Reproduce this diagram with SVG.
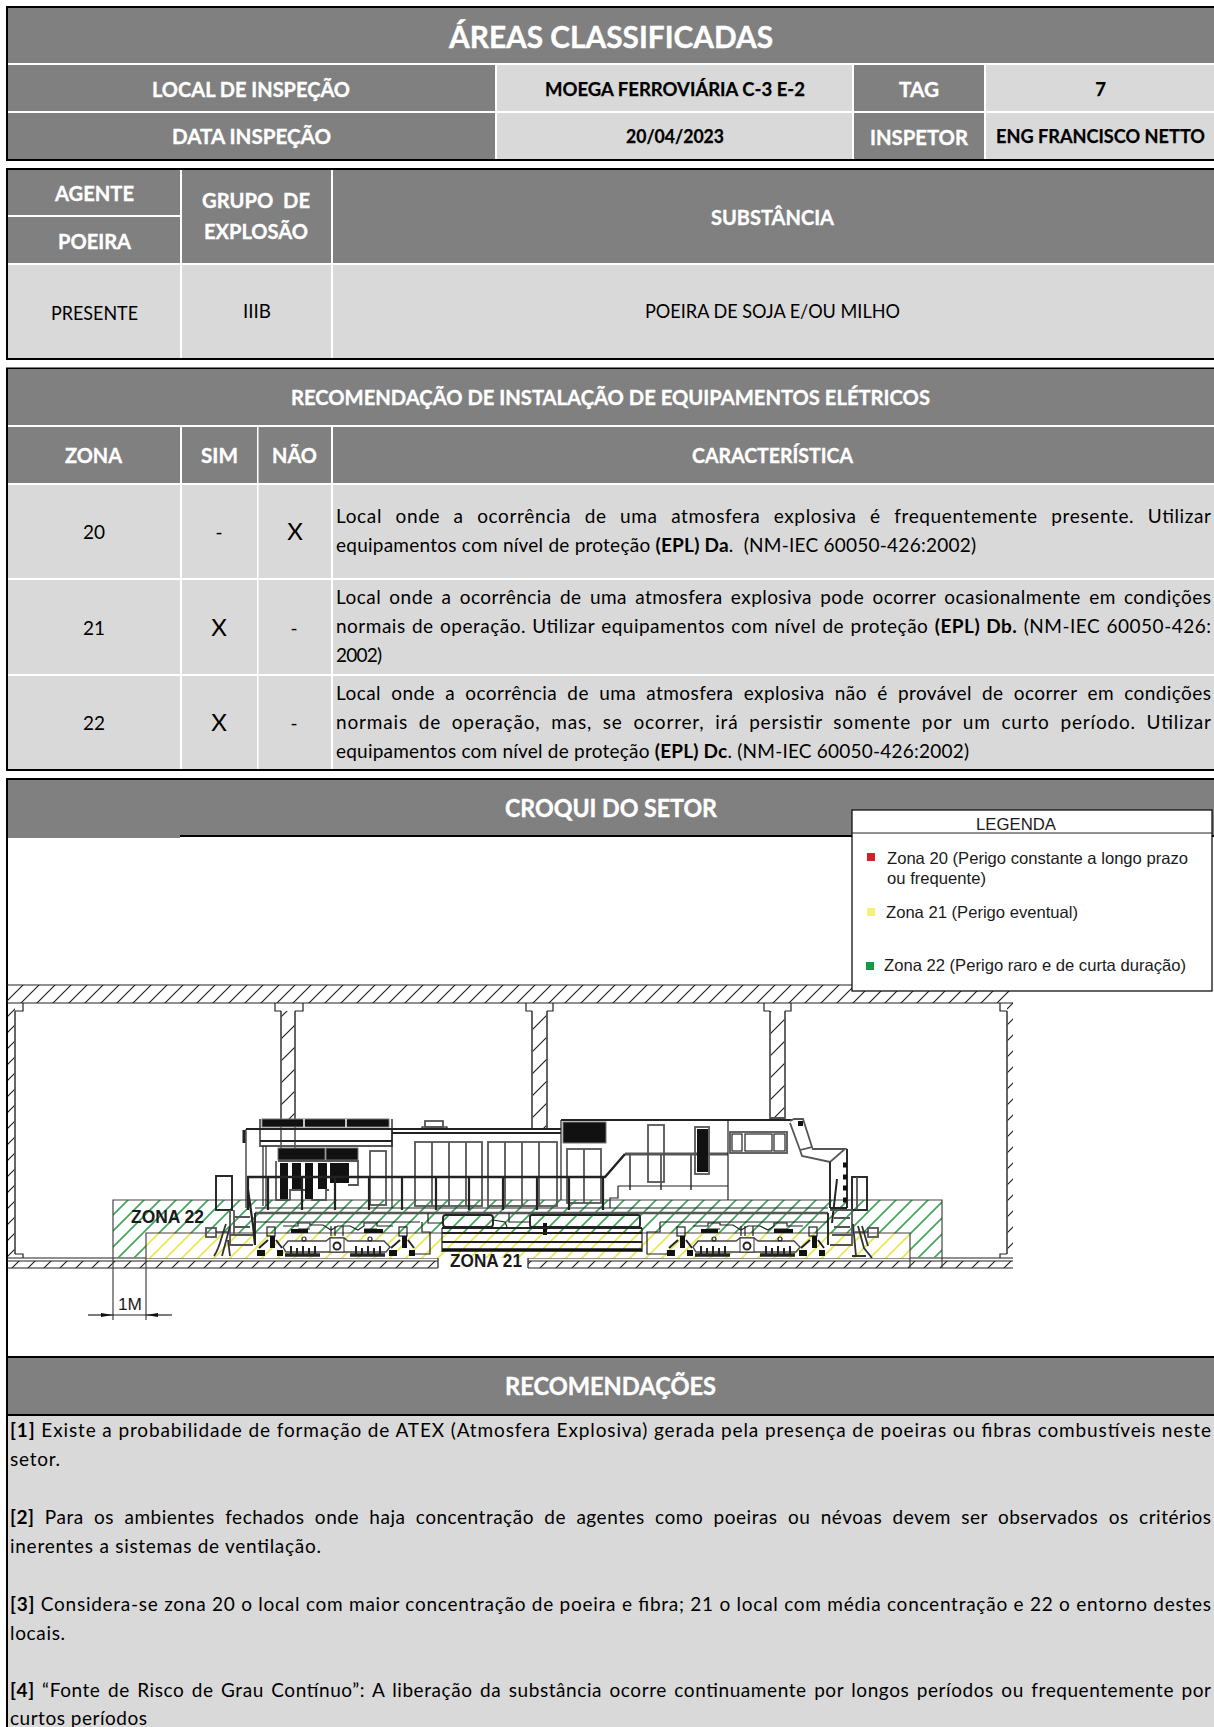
<svg xmlns="http://www.w3.org/2000/svg" xmlns:xlink="http://www.w3.org/1999/xlink" width="1214" height="1727" viewBox="0 0 1214 1727">
<style>
text{font-family:Lato,"Open Sans","Noto Sans",sans-serif}
.g{fill:#808080}.c{fill:#d9d9d9}.k{fill:#000}.w{fill:#fff}
.h{fill:#fff;font-weight:700;font-size:21px;stroke:#fff;stroke-width:.35px}
.b{fill:#000;font-weight:700;font-size:18.5px;stroke:#000;stroke-width:.25px}
.n{fill:#000;font-size:19px}
.p{fill:#000;font-size:19px}
.m{text-anchor:middle}
.a{font-family:"Liberation Sans",Arial,sans-serif;fill:#1a1a1a}
.s{font-weight:700}
.ti{font-weight:700;fill:#fff;stroke:#fff;stroke-width:.4px}
.l{fill:none;stroke:#222;stroke-width:1.2}
.t{fill:none;stroke:#222;stroke-width:1.9}
.y{fill:none;stroke:#555;stroke-width:1.8}
.f{fill:#111;stroke:#777;stroke-width:1}
.d{fill:#111}
</style>
<defs>
<pattern id="hg" width="16" height="16" patternUnits="userSpaceOnUse"><path d="M-2 2L2-2M0 16L16 0M14 18L18 14" stroke="#3ea35c" stroke-width="1.6" fill="none"/></pattern>
<pattern id="hy" width="16" height="16" patternUnits="userSpaceOnUse"><path d="M-2 2L2-2M0 16L16 0M14 18L18 14" stroke="#ece64a" stroke-width="1.6" fill="none"/></pattern>
<pattern id="hk" width="16" height="16" patternUnits="userSpaceOnUse"><path d="M-2 2L2-2M0 16L16 0M14 18L18 14" stroke="#222" stroke-width="1.2" fill="none"/></pattern>
<pattern id="hc" width="22" height="22" patternUnits="userSpaceOnUse"><path d="M-2 2L2-2M0 22L22 0M20 24L24 20" stroke="#222" stroke-width="1.2" fill="none"/></pattern>
<marker id="ar" viewBox="0 0 12 4" refX="12" refY="2" markerWidth="12" markerHeight="4" markerUnits="userSpaceOnUse" orient="auto"><path d="M0 0L12 2L0 4z" fill="#111"/></marker>
<g id="end">
<path class="t" d="M259 1248L268 1240M276 1240L282 1248"/>
<rect class="l" x="267" y="1227" width="8" height="9"/>
<rect class="d" x="270" y="1236" width="5" height="12"/>
<rect class="d" x="257" y="1250" width="8" height="6"/>
<rect class="d" x="277" y="1250" width="6" height="6"/>
</g>
<g id="wheels">
<path d="M285 1255H320" stroke="#222" stroke-width="3.500" fill="none"/>
<path d="M291 1246v10M297 1248v8M303 1246v10M309 1248v8M315 1246v10" stroke="#222" stroke-width="2" fill="none"/>
</g>
<g id="truck">
<path class="l" d="M283 1226H298V1223H310V1225H323L331 1230L338 1226H350L358 1230L364 1226V1223H377V1226H393"/>
<path fill="#fff" stroke="#444" stroke-width="1.4" d="M283 1247L288 1241H326L330 1238H344L348 1241H384L390 1247L386 1252H286Z"/>
<rect class="d" x="291" y="1229" width="17" height="4"/>
<rect class="d" x="364" y="1229" width="19" height="4"/>
<path class="l" d="M331 1226V1236M335 1226V1236M343 1226V1236M298 1229H310M364 1229H377"/>
<circle class="l" cx="304" cy="1239" r="2"/>
<circle class="l" cx="370" cy="1239" r="2"/>
<rect x="330" y="1238" width="14" height="14" fill="#fff" stroke="#333"/>
<circle class="t" cx="337" cy="1246" r="3.500"/>
<use xlink:href="#end" href="#end"/>
<use xlink:href="#end" href="#end" x="132"/>
<use xlink:href="#wheels" href="#wheels"/>
<use xlink:href="#wheels" href="#wheels" x="65"/>
</g>
</defs>
<rect class="w" width="1214" height="1727"/>

<g id="header">
<rect class="k" x="6" y="6" width="1208" height="155"/>
<rect class="g" x="8" y="8" width="1206" height="55"/>
<rect class="w" x="8" y="63" width="1206" height="2"/>
<rect class="g" x="8" y="65" width="487" height="46"/>
<rect class="w" x="8" y="111" width="487" height="2"/>
<rect class="g" x="8" y="113" width="487" height="46"/>
<rect class="w" x="495" y="65" width="719" height="94"/>
<rect class="c" x="497" y="65" width="355" height="46"/>
<rect class="c" x="497" y="113" width="355" height="46"/>
<rect class="g" x="854" y="65" width="130" height="46"/>
<rect class="g" x="854" y="113" width="130" height="46"/>
<rect class="c" x="986" y="65" width="228" height="46"/>
<rect class="c" x="986" y="113" width="228" height="46"/>
<text class="ti" x="449" y="48" font-size="31" textLength="324" lengthAdjust="spacingAndGlyphs">ÁREAS CLASSIFICADAS</text>
<text class="h" x="152" y="97" textLength="198" lengthAdjust="spacingAndGlyphs">LOCAL DE INSPEÇÃO</text>
<text class="h" x="172" y="144" textLength="159" lengthAdjust="spacingAndGlyphs">DATA INSPEÇÃO</text>
<text class="b" x="545" y="96" textLength="260" lengthAdjust="spacingAndGlyphs">MOEGA FERROVIÁRIA C-3 E-2</text>
<text class="h" x="899" y="97" textLength="40" lengthAdjust="spacingAndGlyphs">TAG</text>
<text class="b m" x="1100.5" y="96">7</text>
<text class="b" x="626" y="143" textLength="98" lengthAdjust="spacingAndGlyphs">20/04/2023</text>
<text class="h" x="870" y="145" textLength="98" lengthAdjust="spacingAndGlyphs">INSPETOR</text>
<text class="b" x="996" y="143" textLength="209" lengthAdjust="spacingAndGlyphs">ENG FRANCISCO NETTO</text>
</g>

<g id="agente">
<rect class="k" x="6" y="168" width="1208" height="192"/>
<rect class="g" x="8" y="170" width="1206" height="93"/>
<rect class="c" x="8" y="264.500" width="1206" height="93.500"/>
<rect class="w" x="8" y="263" width="1206" height="2"/>
<rect class="w" x="8" y="215" width="172" height="2"/>
<rect class="w" x="180" y="170" width="2" height="188"/>
<rect class="w" x="331" y="170" width="2" height="188"/>
<text class="h" x="55" y="201" textLength="79" lengthAdjust="spacingAndGlyphs">AGENTE</text>
<text class="h" x="58" y="249" textLength="73" lengthAdjust="spacingAndGlyphs">POEIRA</text>
<text class="h" x="202" y="208" textLength="108" lengthAdjust="spacingAndGlyphs" xml:space="preserve">GRUPO  DE</text>
<text class="h" x="204" y="239" textLength="104" lengthAdjust="spacingAndGlyphs">EXPLOSÃO</text>
<text class="h" x="711" y="225" textLength="123" lengthAdjust="spacingAndGlyphs">SUBSTÂNCIA</text>
<text class="n" x="51" y="320" textLength="87" lengthAdjust="spacingAndGlyphs">PRESENTE</text>
<text class="n" x="243" y="318" textLength="28" lengthAdjust="spacingAndGlyphs">IIIB</text>
<text class="n" x="645" y="318" textLength="255" lengthAdjust="spacingAndGlyphs">POEIRA DE SOJA E/OU MILHO</text>
</g>

<g id="recomendacao-instalacao">
<rect class="k" x="6" y="367.500" width="1208" height="403.500"/>
<rect class="g" x="8" y="369" width="1206" height="56"/>
<rect class="w" x="8" y="425" width="1206" height="2"/>
<rect class="g" x="8" y="427" width="1206" height="56"/>
<rect class="c" x="8" y="485" width="1206" height="284"/>
<rect class="w" x="8" y="483" width="1206" height="2"/>
<rect class="w" x="8" y="578" width="1206" height="2"/>
<rect class="w" x="8" y="674" width="1206" height="2"/>
<rect class="w" x="180" y="427" width="2" height="342"/>
<rect class="w" x="257" y="427" width="1.500" height="342"/>
<rect class="w" x="331" y="427" width="2" height="342"/>
<text class="h" x="291" y="405" textLength="639" lengthAdjust="spacingAndGlyphs">RECOMENDAÇÃO DE INSTALAÇÃO DE EQUIPAMENTOS ELÉTRICOS</text>
<text class="h" x="65" y="463" textLength="57" lengthAdjust="spacingAndGlyphs">ZONA</text>
<text class="h" x="201" y="463" textLength="37" lengthAdjust="spacingAndGlyphs">SIM</text>
<text class="h" x="272" y="463" textLength="45" lengthAdjust="spacingAndGlyphs">NÃO</text>
<text class="h" x="692" y="463" textLength="161" lengthAdjust="spacingAndGlyphs">CARACTERÍSTICA</text>
<text class="n m" x="94" y="539" font-size="20">20</text>
<text class="n m" x="219" y="539">-</text>
<text class="n m" x="295" y="540" style="font-size:24px">X</text>
<text class="n m" x="94" y="635">21</text>
<text class="n m" x="219" y="636" style="font-size:24px">X</text>
<text class="n m" x="294" y="635">-</text>
<text class="n m" x="94" y="730">22</text>
<text class="n m" x="219" y="731" style="font-size:24px">X</text>
<text class="n m" x="294" y="730">-</text>
<g class="lines">
<text class="p" x="336" y="523" word-spacing="8" textLength="875">Local onde a ocorrência de uma atmosfera explosiva é frequentemente presente. Utilizar</text>
<text class="p" x="336" y="552" textLength="640" xml:space="preserve">equipamentos com nível de proteção <tspan class="s">(EPL) Da</tspan>.  (NM-IEC 60050-426:2002)</text>
<text class="p" x="336" y="604" word-spacing="3" textLength="875">Local onde a ocorrência de uma atmosfera explosiva pode ocorrer ocasionalmente em condições</text>
<text class="p" x="336" y="633" word-spacing="1" textLength="875">normais de operação. Utilizar equipamentos com nível de proteção <tspan class="s">(EPL) Db.</tspan> (NM-IEC 60050-426:</text>
<text class="p" x="336" y="662" textLength="46">2002)</text>
<text class="p" x="336" y="700" word-spacing="5" textLength="875">Local onde a ocorrência de uma atmosfera explosiva não é provável de ocorrer em condições</text>
<text class="p" x="336" y="729" word-spacing="5" textLength="875">normais de operação, mas, se ocorrer, irá persistir somente por um curto período. Utilizar</text>
<text class="p" x="336" y="758" textLength="633">equipamentos com nível de proteção <tspan class="s">(EPL) Dc</tspan>. (NM-IEC 60050-426:2002)</text>
</g>
</g>

<g id="croqui-cabecalho">
<rect class="k" x="6" y="778" width="1208" height="2"/>
<rect class="g" x="8" y="780" width="1206" height="58"/>
<rect class="w" x="180" y="837" width="1034" height="1"/>
<rect class="k" x="180" y="835" width="1034" height="2"/>
<rect class="k" x="6" y="780" width="2" height="947"/>
<text class="ti" x="505" y="817" font-size="25" textLength="212" lengthAdjust="spacingAndGlyphs">CROQUI DO SETOR</text>
</g>

<g id="predio">
<rect x="7" y="985" width="1006" height="18" fill="url(#hk)"/>
<path class="l" d="M7 985H1013M7 1003H1013"/>
<rect x="8" y="1003" width="7" height="255" fill="url(#hk)"/>
<path class="y" d="M15 1012V1254"/>
<path class="l" d="M23 1003V1011H15V1012M23 1258V1254H15"/>
<rect x="1007" y="1003" width="6" height="255" fill="url(#hk)"/>
<path class="y" d="M1007 1011V1254"/>
<path class="l" d="M1000 1003V1011H1007M1000 1258V1254H1007"/>
<rect x="281" y="1011" width="14" height="108" fill="url(#hc)"/>
<path class="y" d="M281 1011V1119M295 1011V1119"/>
<path class="l" d="M275 1003V1011H281M303 1003V1011H295M281 1119V1160M295 1119V1160"/>
<rect x="532" y="1011" width="15" height="117" fill="url(#hc)"/>
<path class="y" d="M532 1011V1128M547 1011V1128"/>
<path class="l" d="M526 1003V1011H532M553 1003V1011H547"/>
<rect x="770" y="1011" width="15" height="107" fill="url(#hc)"/>
<path class="y" d="M770 1011V1118H785V1011"/>
<path class="l" d="M764 1003V1011H770M791 1003V1011H785"/>
<rect x="7" y="1261" width="431" height="7" fill="url(#hk)"/>
<rect x="528" y="1261" width="485" height="7" fill="url(#hk)"/>
<path class="l" d="M7 1258H438V1268M7 1261H438M7 1268H438M528 1268V1258H1013M528 1261H1013M528 1268H1013"/>
</g>

<g id="zonas">
<rect x="113" y="1200" width="829" height="58" fill="url(#hg)"/>
<rect x="146" y="1233" width="764" height="25" fill="#fff"/>
<rect x="146" y="1233" width="764" height="25" fill="url(#hy)"/>
<path fill="none" stroke="#444" stroke-width="1.200" d="M113 1320V1200H942V1268M146 1320V1233H910V1268"/>
<text class="a s" x="131" y="1223" font-size="17.500" textLength="73" lengthAdjust="spacingAndGlyphs">ZONA 22</text>
<text class="a s" x="450" y="1267" font-size="17.500" textLength="72" lengthAdjust="spacingAndGlyphs">ZONA 21</text>
</g>

<g id="locomotiva">
<rect class="f" x="262" y="1119" width="127" height="8"/>
<path stroke="#fff" stroke-width="1.5" d="M304 1119V1127M346 1119V1127"/>
<path class="y" d="M260 1119V1146H392V1119"/>
<path class="t" d="M246 1129H260M392 1129H561M392 1133H561M260 1129H392M260 1141H392"/>
<path class="l" d="M246 1129V1208M263 1146V1206M266 1146V1206M392 1129V1208"/>
<path d="M244 1130V1143" stroke="#222" stroke-width="3"/>
<rect class="f" x="278" y="1148" width="47" height="12"/>
<rect class="f" x="326" y="1148" width="32" height="12"/>
<path class="y" stroke="#666" d="M278 1161H358V1185H348M276 1161V1200H290M290 1200V1190H312V1200H326V1190H329"/>
<rect class="d" x="280" y="1163" width="8" height="36"/>
<rect class="d" x="292" y="1163" width="9" height="26"/>
<rect class="d" x="305" y="1163" width="8" height="36"/>
<rect class="d" x="318" y="1163" width="9" height="26"/>
<rect class="d" x="330" y="1163" width="19" height="20"/>
<rect class="y" x="370" y="1151" width="16" height="54"/>
<rect x="422" y="1127" width="25" height="2" class="l"/>
<rect x="425" y="1121" width="18" height="6" class="y"/>
<g class="y">
<rect x="415" y="1142" width="67" height="64"/>
<path d="M432 1142V1206M449 1142V1206M466 1142V1206"/>
<rect x="488" y="1142" width="69" height="64"/>
<path d="M505 1142V1206M522 1142V1206M539 1142V1206"/>
<rect x="567" y="1149" width="34" height="54"/>
<path d="M584 1149V1203"/>
</g>
<path d="M247 1177H605L625 1154" fill="none" stroke="#222" stroke-width="2.400"/>
<path d="M625 1154H728" fill="none" stroke="#555" stroke-width="2.800"/>
<path d="M248 1177V1210M268 1177V1210M302 1177V1210M335 1177V1210M369 1177V1210M402 1177V1210M436 1177V1210M469 1177V1210M503 1177V1210M537 1177V1210M569 1177V1210M603 1177V1210" fill="none" stroke="#222" stroke-width="2.200"/>
<path class="y" d="M630 1154V1190M661 1154V1190M691 1154V1190"/>
<path class="t" d="M561 1120H792"/>
<path class="l" d="M561 1120V1200M728 1120V1200M618 1186H728M618 1186V1198H610V1208"/>
<rect class="f" x="563" y="1122" width="43" height="21" stroke-width="2"/>
<rect class="y" x="648" y="1125" width="16" height="57"/>
<rect class="y" x="695" y="1127" width="14" height="47"/>
<rect class="d" x="697" y="1129" width="11" height="43"/>
<rect class="y" x="730" y="1132" width="57" height="21"/>
<rect class="l" x="732" y="1134" width="10" height="17"/>
<rect class="l" x="745" y="1134" width="27" height="17"/>
<rect class="l" x="774" y="1134" width="11" height="17"/>
<path class="y" d="M790 1121L794 1119H803L812 1147L800 1150L790 1123M800 1150L802 1156L830 1162L845 1149H812"/>
<rect class="d" x="798" y="1121" width="5" height="5"/>
<path class="t" d="M847 1149V1208M830 1162V1208M830 1208H847"/>
<path d="M843 1165h4M843 1177h4M843 1188h4M843 1200h4" stroke="#111" stroke-width="5"/>
<path d="M837 1179L832 1223" stroke="#222" stroke-width="2" fill="none"/>
<rect class="t" x="852" y="1177" width="15" height="33"/>
<path class="y" d="M857 1177V1210"/>
<path class="l" d="M255 1208H828M255 1222H420M660 1222H828"/>
<path d="M255 1213H828" stroke="#555" stroke-width="2.400" fill="none"/>
<path class="t" d="M255 1213V1245M828 1213V1245"/>
<path class="l" d="M660 1222V1232H647V1254H667M422 1222V1232H430V1254H415"/>
<rect class="t" x="443" y="1215" width="50" height="12" rx="3"/>
<rect class="t" x="530" y="1215" width="110" height="12" rx="2"/>
<path class="l" d="M428 1213V1223H443M493 1220L505 1222L507 1227M509 1213V1222H530"/>
<path d="M545 1223V1235" stroke="#111" stroke-width="4"/>
<path class="t" d="M442 1228H642M442 1233H642M442 1242H642"/>
<path d="M442 1250H642" stroke="#111" stroke-width="3.500"/>
<path class="l" d="M442 1228V1252M642 1228V1252"/>
<use xlink:href="#truck" href="#truck"/>
<use xlink:href="#truck" href="#truck" x="410"/>
<rect class="t" x="216" y="1176" width="16" height="34"/>
<path d="M248 1190L253 1225L255 1245" fill="none" stroke="#222" stroke-width="2.200"/>
<path class="y" d="M230 1210V1245H253M234 1217H250M234 1227H250M230 1235H253M234 1210V1235"/>
<rect class="y" x="206" y="1228" width="10" height="9"/>
<path class="l" d="M216 1232H228"/>
<path d="M226 1224C222 1234 220 1248 214 1256M230 1226L222 1256M228 1240L230 1256" fill="none" stroke="#333" stroke-width="1.800"/>
<path class="y" d="M830 1245H852V1210H830M834 1218H850M834 1227H850M832 1235H852"/>
<rect class="y" x="868" y="1228" width="10" height="9"/>
<path class="l" d="M855 1232H868"/>
<path d="M853 1224L856 1256M858 1226L864 1248L872 1258M862 1226L868 1246M852 1256H866" fill="none" stroke="#333" stroke-width="1.800"/>
</g>

<g id="cota">
<path class="l" d="M88 1315H113" marker-end="url(#ar)"/>
<path class="l" d="M172 1315H146" marker-end="url(#ar)"/>
<path class="l" d="M113 1315H146"/>
<text class="a" x="118" y="1310" font-size="17" textLength="24" lengthAdjust="spacingAndGlyphs">1M</text>
</g>

<g id="legenda">
<rect x="852" y="810" width="360" height="181" fill="#fff" stroke="#111" stroke-width="1.300"/>
<path class="l" d="M852 833H1212"/>
<text class="a m" x="1016" y="830" font-size="16.500" textLength="80" lengthAdjust="spacingAndGlyphs">LEGENDA</text>
<rect x="867" y="853" width="8" height="8" fill="#cc2229"/>
<rect x="867" y="908" width="8" height="8" fill="#f7f07c"/>
<rect x="866" y="962" width="8" height="8" fill="#0f9d4a"/>
<text class="a" x="887" y="864" font-size="16.500" textLength="301" lengthAdjust="spacingAndGlyphs">Zona 20 (Perigo constante a longo prazo</text>
<text class="a" x="887" y="884" font-size="16.500" textLength="99" lengthAdjust="spacingAndGlyphs">ou frequente)</text>
<text class="a" x="886" y="918" font-size="16.500" textLength="192" lengthAdjust="spacingAndGlyphs">Zona 21 (Perigo eventual)</text>
<text class="a" x="884" y="971" font-size="16.500" textLength="302" lengthAdjust="spacingAndGlyphs">Zona 22 (Perigo raro e de curta duração)</text>
</g>

<g id="recomendacoes">
<rect class="k" x="6" y="1356" width="1208" height="2"/>
<rect class="g" x="8" y="1358" width="1206" height="56"/>
<rect class="k" x="6" y="1414" width="1208" height="2"/>
<rect class="c" x="8" y="1416" width="1206" height="311"/>
<text class="ti" x="505" y="1395" font-size="25" textLength="211" lengthAdjust="spacingAndGlyphs">RECOMENDAÇÕES</text>
<text class="p" x="10" y="1437" textLength="1201"><tspan class="s">[1]</tspan> Existe a probabilidade de formação de ATEX (Atmosfera Explosiva) gerada pela presença de poeiras ou fibras combustíveis neste</text>
<text class="p" x="10" y="1466" textLength="50">setor.</text>
<text class="p" x="10" y="1524" word-spacing="5" textLength="1201"><tspan class="s">[2]</tspan> Para os ambientes fechados onde haja concentração de agentes como poeiras ou névoas devem ser observados os critérios</text>
<text class="p" x="10" y="1553" textLength="311">inerentes a sistemas de ventilação.</text>
<text class="p" x="10" y="1611" textLength="1201"><tspan class="s">[3]</tspan> Considera-se zona 20 o local com maior concentração de poeira e fibra; 21 o local com média concentração e 22 o entorno destes</text>
<text class="p" x="10" y="1640" textLength="55">locais.</text>
<text class="p" x="10" y="1697" word-spacing="2" textLength="1201"><tspan class="s">[4]</tspan> “Fonte de Risco de Grau Contínuo”: A liberação da substância ocorre continuamente por longos períodos ou frequentemente por</text>
<text class="p" x="10" y="1725" textLength="137">curtos períodos</text>
</g>
</svg>
